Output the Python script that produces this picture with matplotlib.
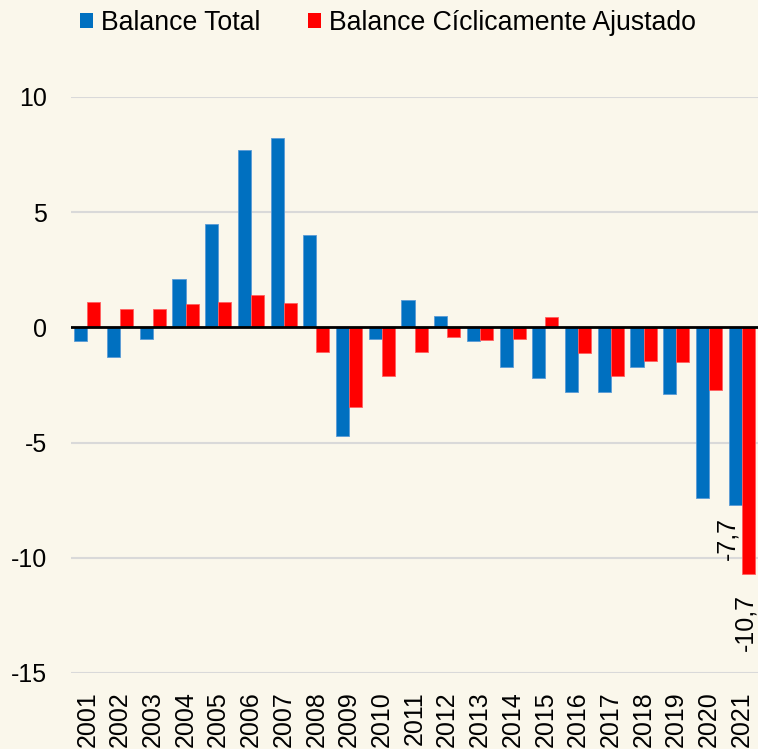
import matplotlib
matplotlib.use("Agg")
import matplotlib.pyplot as plt
import numpy as np
from matplotlib.patches import Patch

plt.rcParams['font.family'] = ['Liberation Sans', 'DejaVu Sans']

years = [str(y) for y in range(2001, 2022)]
balance_total = [-0.6, -1.3, -0.5, 2.1, 4.5, 7.7, 8.2, 4.0, -4.7, -0.5, 1.2, 0.5,
                 -0.6, -1.7, -2.2, -2.8, -2.8, -1.7, -2.9, -7.4, -7.7]
balance_ciclico = [1.1, 0.8, 0.8, 1.0, 1.1, 1.4, 1.05, -1.05, -3.45, -2.1, -1.05, -0.4,
                   -0.55, -0.5, 0.45, -1.1, -2.1, -1.45, -1.5, -2.7, -10.7]
yticks = [10, 5, 0, -5, -10, -15]

bg = '#FAF7EB'
blue = '#0070C0'
red = '#FF0000'

fig = plt.figure(figsize=(7.58, 7.49), dpi=100, facecolor=bg)
ax = fig.add_axes([71/758, (749-673)/749, (758-71)/758, (673-97)/749])
ax.set_facecolor(bg)

x = np.arange(len(years))
w = 0.4
ax.bar(x - w/2, balance_total, w, color=blue, edgecolor='#5A9BD5', linewidth=0.6, zorder=3)
ax.bar(x + w/2, balance_ciclico, w, color=red, edgecolor='#FF6060', linewidth=0.6, zorder=3)

ax.set_xlim(-0.5, len(years) - 0.5)
ax.set_ylim(-15, 10)
ax.set_yticks(yticks)
ax.set_yticklabels([str(t) for t in yticks], fontsize=18)
ax.set_xticks(x)
ax.set_xticklabels(years, rotation=90, fontsize=18, va='top')
ax.tick_params(axis='y', length=0, pad=17)
ax.tick_params(axis='x', length=0, pad=13)
for s in ax.spines.values():
    s.set_visible(False)
ax.grid(axis='y', color='#D9D9D9', linewidth=1.5, zorder=0)
ax.set_axisbelow(True)
ax.axhline(0, color='black', linewidth=2, zorder=4)

# data labels
ax.text(19.56, -8.25, '-7,7', rotation=90, ha='center', va='top', fontsize=18, zorder=5)
ax.text(20.12, -11.55, '-10,7', rotation=90, ha='center', va='top', fontsize=18, zorder=5)

handles = [Patch(facecolor=blue, edgecolor='none', label='Balance Total'),
           Patch(facecolor=red, edgecolor='none', label='Balance Cíclicamente Ajustado')]
fig.legend(handles=handles, loc='center', bbox_to_anchor=(388/758, 1 - 23/749), ncol=2,
           frameon=False, fontsize=19.2, handlelength=0.5, handleheight=0.5,
           handletextpad=0.3, columnspacing=1.75, borderaxespad=0, borderpad=0)

fig.savefig('out.png', dpi=100, facecolor=bg)
